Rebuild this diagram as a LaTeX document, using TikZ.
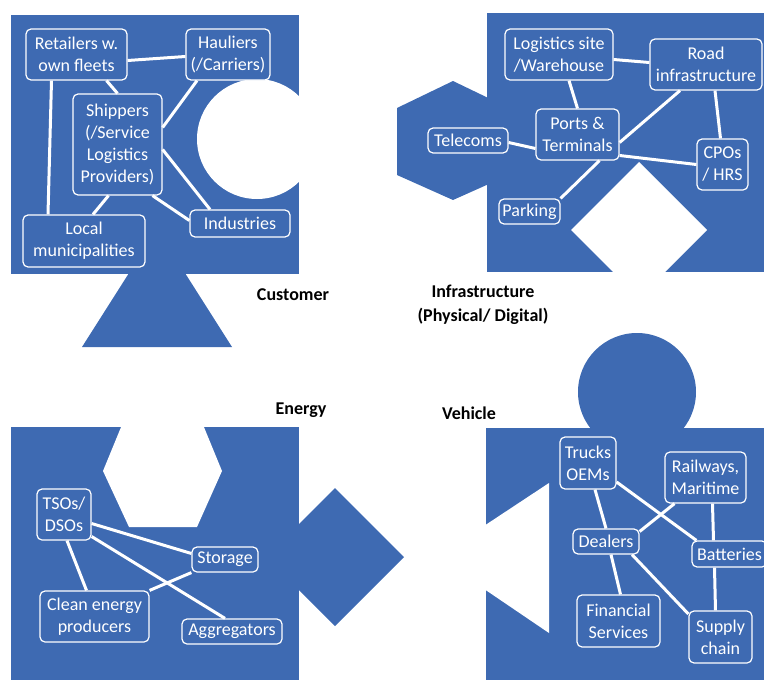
\documentclass[tikz,border=0pt]{standalone}
\usepackage{fontspec}
\setmainfont{Carlito}
\usepackage{tikz}
\definecolor{puzzle}{RGB}{62,106,178}
\tikzset{box/.style = {shape=rectangle,draw=white,fill=puzzle,rounded corners=5pt,line width=1.2pt,text=white,align=center,inner sep=2pt,font=\fontsize{18}{22}\selectfont}}
\tikzset{link/.style = {draw=white,line width=3pt}}
\tikzset{title/.style = {font=\fontsize{18}{24}\selectfont\bfseries,align=center,text=black}}

\begin{document}
\begin{tikzpicture}[x=1pt,y=-1pt]
            \useasboundingbox (0,0) rectangle (764,680);
            \fill[puzzle] (157,229) -- (82,347) -- (232,347) -- cycle;
            \fill[puzzle] (11,15) rectangle (299,274);
            \fill[white] (257,139) circle (60);
            \fill[puzzle] (453,81) -- (509,108) -- (509,175) -- (453,200) -- (397,175) -- (397,108) -- cycle;
            \fill[puzzle] (487,13) rectangle (770,272);
            \fill[white] (639,162) -- (707,230) -- (639,298) -- (571,230) -- cycle;
            \fill[puzzle] (11,427) rectangle (299,685);
            \fill[white] (103,471) -- (126,415) -- (199,415) -- (222,471) -- (197,527) -- (129,527) -- cycle;
            \fill[puzzle] (335,488) -- (404,557) -- (335,626) -- (266,557) -- cycle;
            \fill[puzzle] (637,392) circle (59);
            \fill[puzzle] (486,428) rectangle (770,685);
            \fill[white] (437,557) -- (549,483) -- (549,633) -- cycle;
            \node[box, minimum width=101, minimum height=51] (ret) at (76.5,54.5) {Retailers w.\\own fleets};
            \node[box, minimum width=84, minimum height=51] (hau) at (228,54.5) {Hauliers\\(/Carriers)};
            \draw[link] ([yshift=-6pt]ret.east) -- ([yshift=-2pt]hau.west);
            \node[box, minimum width=89, minimum height=101] (shp) at (117.5,144.5) {Shippers\\(/Service\\Logistics\\Providers)};
            \draw[link] ([xshift=30pt]ret.south) -- (shp.north);
            \draw[link] ([xshift=-31pt]hau.south) -- ([yshift=17pt]shp.east);
            \node[box, minimum width=100, minimum height=27] (ind) at (240,223.5) {Industries};
            \draw[link] ([yshift=-5pt]shp.east) -- ([xshift=-30pt]ind.north);
            \draw[link] ([xshift=35pt]shp.south) -- ([yshift=3pt]ind.west);
            \node[box, minimum width=122, minimum height=52] (loc) at (84,241) {Local\\municipalities};
            \draw[link] ([xshift=-25pt]ret.south) -- ([xshift=-36pt]loc.north);
            \draw[link] ([xshift=-9pt]shp.south) -- ([xshift=9pt]loc.north);
            \node[title] (cus) at (293,295) {Customer};
            \node[box, minimum width=108, minimum height=51] (log) at (559,54.5) {Logistics site\\/Warehouse};
            \node[box, minimum width=112, minimum height=51] (road) at (706,64.5) {Road\\infrastructure};
            \draw[link] ([yshift=-5pt]log.east) -- ([yshift=2pt]road.west);
            \node[box, minimum width=83, minimum height=51] (prt) at (577.5,134.5) {Ports \&\\Terminals};
            \draw[link] ([xshift=10pt]log.south) -- (prt.north);
            \draw[link] ([xshift=-26pt]road.south) -- ([yshift=-8pt]prt.east);
            \node[box, minimum width=80, minimum height=25] (tel) at (468,140.5) {Telecoms};
            \draw[link] ([yshift=-2pt]tel.east) -- ([yshift=-14pt]prt.west);
            \node[box, minimum width=51, minimum height=51] (cpo) at (722.5,164.5) {CPOs\\/ HRS};
            \draw[link] ([xshift=9pt]road.south) -- ([xshift=-2pt]cpo.north);
            \draw[link] ([yshift=-21pt]prt.east) -- (cpo.west);
            \node[box, minimum width=61, minimum height=25] (prk) at (529.5,211.5) {Parking};
            \draw[link] ([xshift=22pt]prt.south) -- (prk.north east);
            \node[title] (inf) at (483,305) {Infrastructure\\(Physical/ Digital)};
            \node[box, minimum width=54, minimum height=51] (tso) at (64,514.5) {TSOs/\\DSOs};
            \node[box, minimum width=66, minimum height=25] (sto) at (225,559.5) {Storage};
            \draw[link] ([yshift=-9pt]tso.east) -- ([yshift=6pt]sto.west);
            \node[box, minimum width=109, minimum height=51] (cln) at (94.5,616.5) {Clean energy\\producers};
            \draw[link] ([xshift=3pt]tso.south) -- ([xshift=-8pt]cln.north);
            \draw[link] (cln.north east) -- (sto.south west);
            \node[box, minimum width=100, minimum height=25] (agg) at (232,631.5) {Aggregators};
            \draw[link] ([yshift=-22pt]tso.east) -- ([xshift=-7pt]agg.north);
            \node[title] (ene) at (301,410) {Energy};
            \node[box, minimum width=56, minimum height=52] (trk) at (588,463) {Trucks\\OEMs};
            \node[box, minimum width=81, minimum height=51] (rail) at (705.5,477.5) {Railways,\\Maritime};
            \node[box, minimum width=66, minimum height=25] (dea) at (606,541.5) {Dealers};
            \draw[link] ([xshift=7pt]trk.south) -- (dea.north);
            \draw[link] ([xshift=-31pt]rail.south) -- ([yshift=10pt]dea.east);
            \node[box, minimum width=75, minimum height=26] (bat) at (729.5,554) {Batteries};
            \draw[link] ([yshift=-19pt]trk.east) -- ([xshift=5pt]bat.north west);
            \draw[link] ([xshift=7pt]rail.south) -- ([xshift=-16pt]bat.north);
            \node[box, minimum width=83, minimum height=52] (fin) at (618.5,621) {Financial\\Services};
            \draw[link] ([xshift=5pt]dea.south) -- ([xshift=2pt]fin.north);
            \node[box, minimum width=63, minimum height=52] (sup) at (720.5,637) {Supply\\chain};
            \draw[link] ([xshift=26pt]dea.south) -- ([yshift=23pt]sup.west);
            \draw[link] ([xshift=-15pt]bat.south) -- ([xshift=-5pt]sup.north);
            \node[title] (veh) at (469,413) {Vehicle};
        \end{tikzpicture}
\end{document}
